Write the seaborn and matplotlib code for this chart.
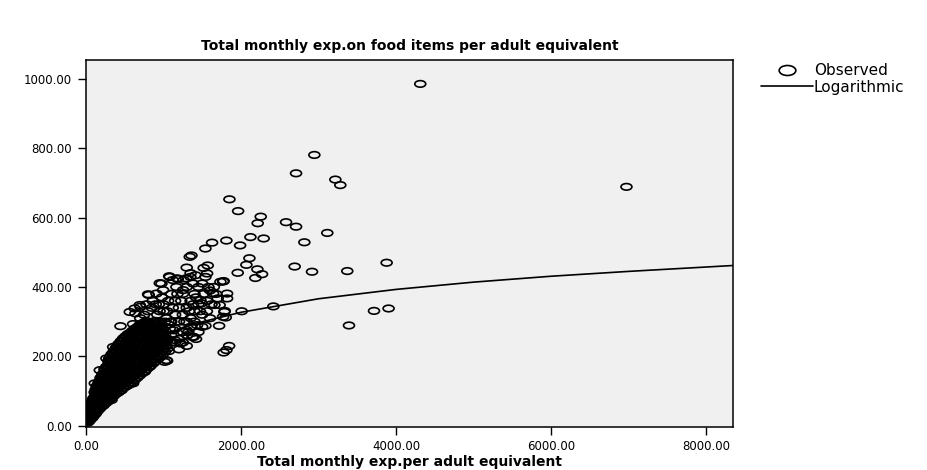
import matplotlib
matplotlib.use('Agg')
import matplotlib.pyplot as plt
import seaborn as sns
import pandas as pd
from matplotlib.path import Path
from matplotlib.transforms import Affine2D
from matplotlib.lines import Line2D
from matplotlib.ticker import FormatStrFormatter

# scattered households
outlier_x = [4314, 2947, 2711, 3218, 3282, 6975, 1851, 1963, 2255, 2216,
             2582, 2711, 3114, 2818, 2122, 2293, 1812, 1989, 1627, 1541,
             2109, 1361, 1339, 2070, 2212, 2272, 2186, 1958, 2693, 2917,
             3372, 3880, 3717, 3905, 3394, 2418, 2009, 1847, 1777, 1790,
             1803, 1718, 1821, 1821, 1657, 1769, 1300, 1571, 1519, 1081,
             952, 1184, 1292, 1735]
outlier_y = [986, 781, 728, 710, 694, 689, 653, 619, 603, 584,
             587, 574, 556, 529, 544, 540, 534, 520, 528, 511,
             483, 491, 487, 464, 451, 437, 426, 441, 459, 444,
             446, 470, 331, 338, 289, 344, 330, 230, 211, 331,
             312, 288, 381, 367, 348, 416, 456, 462, 455, 429,
             411, 423, 425, 415]

# medium density fringe round the main band
fringe_x = [1261, 1348, 1412, 1541, 1563, 1777, 810, 703, 638, 445,
            608, 1786, 1700, 1477, 1563, 1434, 1499, 1541, 1390, 1047,
            694, 802, 974, 1073, 1176, 995, 909, 1167, 1253, 1382,
            1490, 1640, 1725, 1769, 1296, 1145, 565, 629, 351, 264,
            178, 114, 758, 823, 1016, 608, 458, 329, 1038, 1812,
            900, 950, 1000, 1050, 1100, 1150, 1200, 1250, 1300, 1100,
            1150, 1200, 1250, 1300, 1350, 1400, 1450, 1500, 1350, 1400,
            1450, 1500, 1600, 1650, 1100, 1150, 1200, 1250, 1300, 1350,
            1400, 1300, 1200, 1150, 1050, 1080, 1000, 1020, 980, 1060,
            1120, 1180, 1230, 1270, 1330, 1380, 1420, 1470, 1520, 1580,
            1620, 1680, 1560, 1600, 1450, 1250, 1320, 1420, 750, 800,
            850, 880, 920, 700, 780, 860, 940, 960, 1120, 1350,
            1219, 1305, 1373, 1090, 1110, 1130, 1070, 1060, 1040]
fringe_y = [420, 429, 434, 429, 439, 417, 377, 343, 324, 287,
            293, 328, 367, 362, 360, 290, 285, 288, 256, 187,
            348, 379, 410, 431, 425, 391, 381, 400, 391, 410,
            353, 381, 348, 314, 276, 247, 328, 338, 227, 194,
            160, 122, 155, 170, 184, 122, 102, 74, 189, 218,
            350, 330, 350, 330, 380, 360, 340, 380, 400, 300,
            320, 300, 320, 340, 360, 380, 400, 410, 310, 330,
            350, 320, 390, 400, 260, 280, 250, 270, 300, 285,
            300, 230, 220, 240, 250, 280, 330, 300, 370, 360,
            340, 380, 360, 300, 330, 350, 370, 330, 380, 400,
            350, 380, 330, 310, 270, 240, 270, 250, 320, 330,
            340, 300, 320, 310, 350, 360, 350, 300, 420, 440,
            237, 261, 256, 300, 240, 275, 215, 292, 310]

# dense band near the origin: one column of y values for each x
band_x = [20, 40, 60, 80, 100, 125, 150, 175, 200, 225,
          250, 275, 300, 330, 360, 390, 420, 450, 480, 510,
          540, 570, 600, 630, 660, 690, 720, 750, 780, 810,
          840, 870, 900, 930, 960, 990, 1020, 1050]
band_y = [[8, 16, 24],
          [12, 22, 32, 42],
          [18, 28, 40, 52, 62],
          [22, 34, 46, 58, 70],
          [28, 40, 52, 66, 80],
          [34, 48, 62, 76, 92, 104],
          [42, 56, 72, 88, 102, 116],
          [48, 64, 80, 96, 112, 128],
          [54, 70, 88, 106, 122, 140],
          [58, 76, 94, 112, 132, 150],
          [64, 82, 102, 122, 142, 162],
          [68, 88, 110, 130, 152, 172],
          [74, 94, 116, 138, 160, 182, 194],
          [80, 102, 124, 148, 170, 192, 206],
          [86, 108, 132, 156, 180, 202, 216],
          [92, 116, 140, 164, 188, 212, 226],
          [96, 120, 146, 172, 196, 220, 236],
          [102, 128, 154, 180, 204, 228, 244],
          [108, 134, 160, 186, 212, 236, 252],
          [112, 140, 166, 192, 218, 242, 258],
          [116, 144, 172, 198, 224, 248, 264],
          [120, 148, 176, 204, 230, 254, 268],
          [126, 154, 182, 210, 236, 260, 274],
          [132, 160, 188, 214, 240, 264, 280],
          [138, 166, 192, 220, 246, 270, 284],
          [144, 170, 198, 224, 250, 274, 290],
          [150, 176, 204, 230, 256, 280, 294],
          [156, 182, 208, 234, 260, 284, 298],
          [162, 188, 214, 240, 264, 288, 302],
          [168, 194, 220, 244, 268, 292],
          [174, 200, 224, 248, 272, 296],
          [180, 206, 230, 254, 278, 300],
          [186, 212, 236, 260, 284, 302],
          [192, 218, 242, 266, 290],
          [198, 224, 248, 272, 294],
          [206, 230, 254, 278],
          [214, 238, 262],
          [222, 246]]

# second, offset set of columns that fills the gaps in the band
band2_x = [30, 50, 70, 90, 112, 138, 162, 188, 212, 238,
           262, 288, 315, 345, 375, 405, 435, 465, 495, 525,
           555, 585, 615, 645, 675, 705, 735, 765, 795, 825,
           855, 885, 915, 945, 975, 1005, 1035]
band2_y = [[12, 20, 28],
           [20, 30, 40],
           [26, 38, 50, 60],
           [32, 44, 56, 68, 76],
           [40, 54, 68, 82, 96],
           [46, 60, 76, 90, 104, 114],
           [54, 70, 86, 100, 116, 124],
           [60, 76, 92, 110, 126, 138],
           [66, 84, 102, 120, 138, 148],
           [72, 90, 110, 130, 150, 162],
           [76, 96, 116, 136, 156, 170],
           [82, 104, 126, 146, 168, 186],
           [88, 110, 132, 154, 176, 198],
           [96, 118, 140, 164, 188, 208],
           [102, 124, 148, 172, 196, 218],
           [106, 132, 156, 180, 204, 228],
           [114, 138, 164, 188, 212, 236],
           [118, 144, 170, 196, 220, 244],
           [124, 150, 176, 202, 226, 250],
           [128, 156, 182, 208, 232, 256],
           [132, 160, 188, 214, 238, 262],
           [138, 166, 192, 218, 244, 266],
           [144, 172, 198, 226, 250, 272],
           [150, 178, 204, 232, 256, 278],
           [154, 182, 210, 236, 260, 284],
           [160, 186, 212, 238, 264, 286],
           [166, 192, 218, 244, 270, 290],
           [172, 198, 222, 248, 274, 294],
           [178, 204, 230, 254, 278, 298],
           [182, 208, 234, 258, 282],
           [188, 214, 238, 262, 286],
           [194, 220, 244, 268, 292],
           [200, 226, 250, 274, 296],
           [208, 232, 256, 280],
           [214, 240, 264, 284],
           [222, 246, 268],
           [230, 252]]

# logarithmic fit line
curve_x = [65, 90, 120, 160, 220, 300, 400, 550, 750, 1000,
           1400, 2000, 3000, 4000, 5000, 6000, 7000, 8350]
curve_y = [5, 36, 63, 90, 120, 149, 176, 206, 235, 262,
           294, 327, 366, 393, 414, 431, 445, 462]

xticks = [0, 2000, 4000, 6000, 8000]
yticks = [0, 200, 400, 600, 800, 1000]

# put all points in one frame
rows = []
for x, y in zip(outlier_x, outlier_y):
    rows.append((x, y))
for x, y in zip(fringe_x, fringe_y):
    rows.append((x, y))
for x, ys in zip(band_x + band2_x, band_y + band2_y):
    for y in ys:
        rows.append((x, y))
df = pd.DataFrame(rows, columns=['exp_total', 'exp_food'])

sns.set_theme(style='ticks')
plt.rcParams['font.family'] = ['DejaVu Sans']
plt.rcParams['text.color'] = 'black'
plt.rcParams['axes.labelcolor'] = 'black'

# SPSS markers come out as flat ellipses
ellipse = Path.unit_circle().transformed(Affine2D().scale(1.0, 0.6))

fig = plt.figure(figsize=(9.27, 4.70), dpi=100)
ax = fig.add_axes([86 / 927, 1 - 427 / 470, 647 / 927, 367 / 470])
ax.set_facecolor('#F0F0F0')

sns.scatterplot(data=df, x='exp_total', y='exp_food', ax=ax, marker=ellipse,
                s=62, facecolors='none', edgecolor='black', linewidth=1.2,
                zorder=2)
sns.lineplot(x=curve_x, y=curve_y, ax=ax, color='black', linewidth=1.2,
             zorder=3)

ax.set_xlim(0, 8350)
ax.set_ylim(-4, 1055)
ax.set_xticks(xticks)
ax.set_yticks(yticks)
ax.xaxis.set_major_formatter(FormatStrFormatter('%.2f'))
ax.yaxis.set_major_formatter(FormatStrFormatter('%.2f'))
ax.tick_params(axis='both', direction='out', length=6, width=1,
               colors='black', labelsize=8.5)
ax.tick_params(axis='y', pad=4)
ax.tick_params(axis='x', pad=3)
for sp in ax.spines.values():
    sp.set_visible(True)
    sp.set_color('black')
    sp.set_linewidth(1.1)

ax.set_xlabel('Total monthly exp.per adult equivalent', fontsize=10,
              fontweight='bold', labelpad=2)
ax.set_ylabel('')
fig.text(410 / 927, 1 - 46 / 470,
         'Total monthly exp.on food items per adult equivalent',
         ha='center', va='center', fontsize=10, fontweight='bold')

handles = [Line2D([], [], linestyle='none', marker=ellipse, markersize=12,
                  markerfacecolor='none', markeredgecolor='black',
                  markeredgewidth=1.2),
           Line2D([], [], color='black', linewidth=1.2)]
fig.legend(handles, ['Observed', 'Logarithmic'], loc='upper left',
           bbox_to_anchor=(758 / 927, 1 - 60 / 470), frameon=False,
           fontsize=11, handlelength=3.4, handletextpad=0.05,
           labelspacing=0.1, borderpad=0.2, borderaxespad=0,
           labelcolor='black')

fig.savefig('out.png', dpi=100)
